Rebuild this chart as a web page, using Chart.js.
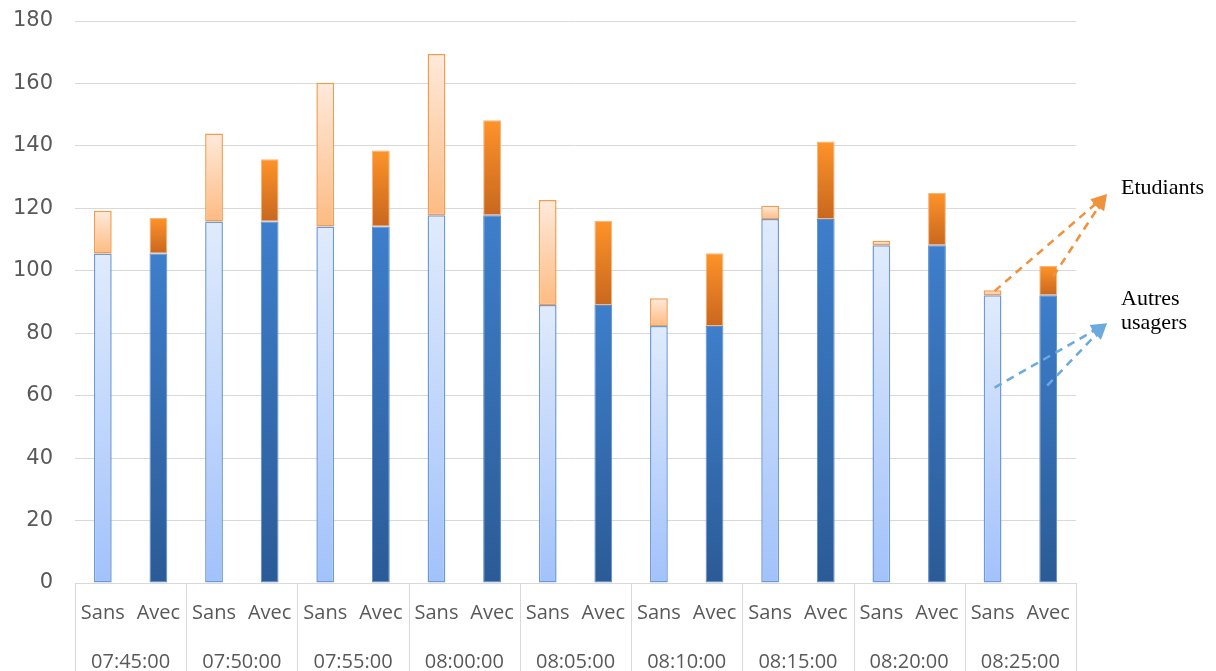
<!DOCTYPE html>
<html>
<head>
<meta charset="utf-8">
<script src="https://cdn.jsdelivr.net/npm/chart.js@4.4.1/dist/chart.umd.min.js"></script>
<style>
  html, body { margin: 0; padding: 0; background: #fff; }
  #wrap { width: 1216px; height: 671px; position: relative; }
</style>
</head>
<body>
<div id="wrap"><canvas id="trafic"></canvas></div>
<script>
// heures et scénarios
const heures = ['07:45:00', '07:50:00', '07:55:00', '08:00:00', '08:05:00', '08:10:00', '08:15:00', '08:20:00', '08:25:00'];
const scenarios = ['Sans', 'Avec'];

// valeurs
const autresSans = [105.5, 115.8, 114.2, 117.8, 89.0, 82.3, 116.6, 108.2, 92.2];
const autresAvec = [105.5, 115.8, 114.2, 117.8, 89.0, 82.3, 116.6, 108.2, 92.2];
const etudiantsSans = [13.7, 28.2, 46.0, 51.6, 33.7, 8.9, 4.2, 1.4, 1.6];
const etudiantsAvec = [11.4, 19.9, 24.3, 30.4, 27.0, 23.3, 24.8, 16.7, 9.3];

const yTicks = [0, 20, 40, 60, 80, 100, 120, 140, 160, 180];

// une barre par (heure, scénario)
const labels = [];
const autres = [];
const etudiants = [];
heures.forEach((h, i) => {
  labels.push(scenarios[0], scenarios[1]);
  autres.push(autresSans[i], autresAvec[i]);
  etudiants.push(etudiantsSans[i], etudiantsAvec[i]);
});

const couleurs = {
  autresSans: ['#e0ebfc', '#a2c2fb'],
  autresAvec: ['#3e7ecb', '#2b5b96'],
  etudSans: ['#feeadb', '#fdbb82'],
  etudAvec: ['#fe9329', '#c8671f']
};

function degrade(ctx, stops, bas, haut) {
  const chart = ctx.chart;
  if (!chart.chartArea || ctx.type !== 'data') return stops[0];
  const y = chart.scales.y;
  const i = ctx.dataIndex;
  const top = y.getPixelForValue(haut[i]);
  const bottom = y.getPixelForValue(bas[i]);
  const g = chart.ctx.createLinearGradient(0, top, 0, bottom);
  g.addColorStop(0, stops[0]);
  g.addColorStop(1, stops[1]);
  return g;
}

const totaux = autres.map((v, i) => v + etudiants[i]);
const zeros = autres.map(() => 0);

// lignes du tableau sous l'axe + flèches d'annotation
const decor = {
  id: 'decor',
  afterDraw(chart) {
    const c = chart.ctx;
    const area = chart.chartArea;
    const x = chart.scales.x;
    const y = chart.scales.y;
    const H = chart.height;
    c.save();
    c.strokeStyle = '#d9d9d9';
    c.lineWidth = 1;
    c.beginPath();
    c.moveTo(area.left, area.bottom + 0.5);
    c.lineTo(area.right, area.bottom + 0.5);
    const pas = (area.right - area.left) / heures.length;
    for (let k = 0; k <= heures.length; k++) {
      const px = Math.round(area.left + k * pas) + 0.5;
      c.moveTo(px, area.bottom);
      c.lineTo(px, H);
    }
    c.stroke();

    const last = heures.length - 1;
    const xs = x.getPixelForValue(2 * last);
    const xa = x.getPixelForValue(2 * last + 1);
    const tipX = area.right + 31;

    function fleche(x0, y0, x1, y1, col) {
      const ang = Math.atan2(y1 - y0, x1 - x0);
      const L = 16, W = 7;
      const bx = x1 - L * Math.cos(ang), by = y1 - L * Math.sin(ang);
      c.strokeStyle = col;
      c.lineWidth = 2.5;
      c.setLineDash([8, 6]);
      c.beginPath();
      c.moveTo(x0, y0);
      c.lineTo(bx, by);
      c.stroke();
      c.setLineDash([]);
      c.fillStyle = col;
      c.beginPath();
      c.moveTo(x1, y1);
      c.lineTo(bx + W * Math.sin(ang), by - W * Math.cos(ang));
      c.lineTo(bx - W * Math.sin(ang), by + W * Math.cos(ang));
      c.closePath();
      c.fill();
    }
    const tipE = y.getPixelForValue(124.6);
    fleche(xs + 2, y.getPixelForValue(93.5), tipX, tipE, '#f0913c');
    fleche(xa + 5, y.getPixelForValue(98.2), tipX, tipE, '#f0913c');
    const tipA = y.getPixelForValue(83.2);
    fleche(xs + 2, y.getPixelForValue(62.6), tipX, tipA, '#6aaade');
    fleche(xa - 1, y.getPixelForValue(63.2), tipX, tipA, '#6aaade');

    c.fillStyle = '#000';
    c.font = '22px "Liberation Serif"';
    c.textAlign = 'left';
    c.textBaseline = 'middle';
    c.fillText('Etudiants', area.right + 45, y.getPixelForValue(126.5));
    c.fillText('Autres', area.right + 45, y.getPixelForValue(91));
    c.fillText('usagers', area.right + 45, y.getPixelForValue(83.3));
    c.restore();
  }
};

new Chart(document.getElementById('trafic'), {
  type: 'bar',
  data: {
    labels: labels,
    datasets: [
      {
        label: 'Autres usagers',
        data: autres,
        backgroundColor: ctx => ctx.dataIndex % 2 === 0
          ? degrade(ctx, couleurs.autresSans, zeros, autres)
          : degrade(ctx, couleurs.autresAvec, zeros, autres),
        borderColor: ctx => ctx.dataIndex % 2 === 0 ? '#6e9ad6' : '#5a8ccf',
        borderWidth: ctx => ctx.dataIndex % 2 === 0 ? 1.5 : 1,
        borderSkipped: false
      },
      {
        label: 'Etudiants',
        data: etudiants,
        backgroundColor: ctx => ctx.dataIndex % 2 === 0
          ? degrade(ctx, couleurs.etudSans, autres, totaux)
          : degrade(ctx, couleurs.etudAvec, autres, totaux),
        borderColor: ctx => ctx.dataIndex % 2 === 0 ? '#f39c4f' : '#f6b47e',
        borderWidth: ctx => ctx.dataIndex % 2 === 0 ? 1.5 : 1,
        borderSkipped: false
      }
    ]
  },
  options: {
    responsive: true,
    maintainAspectRatio: false,
    animation: false,
    layout: { padding: { top: 21, left: 8, right: 140, bottom: 0 } },
    datasets: { bar: { categoryPercentage: 1, barPercentage: 0.32 } },
    plugins: { legend: { display: false }, tooltip: { enabled: false } },
    scales: {
      x: {
        stacked: true,
        grid: { display: false },
        border: { display: false },
        ticks: { color: '#595959', font: { family: 'Open Sans', size: 20 }, padding: 10, maxRotation: 0, autoSkip: false },
        afterFit: s => { s.height = 50; }
      },
      x2: {
        type: 'category',
        position: 'bottom',
        labels: heures,
        offset: true,
        grid: { display: false },
        border: { display: false },
        ticks: { color: '#595959', font: { family: 'Open Sans', size: 20 }, padding: 9, maxRotation: 0, autoSkip: false },
        afterFit: s => { s.height = 38; }
      },
      y: {
        stacked: true,
        min: 0,
        max: 180,
        afterBuildTicks: s => { s.ticks = yTicks.map(v => ({ value: v })); },
        grid: { color: '#d9d9d9', drawTicks: false },
        border: { display: false },
        ticks: { color: '#595959', font: { family: 'DejaVu Sans', size: 21 }, padding: 22 },
        afterFit: s => { s.width = 67; s.paddingTop = 0; s.paddingBottom = 0; }
      }
    }
  },
  plugins: [decor]
});
</script>
</body>
</html>
